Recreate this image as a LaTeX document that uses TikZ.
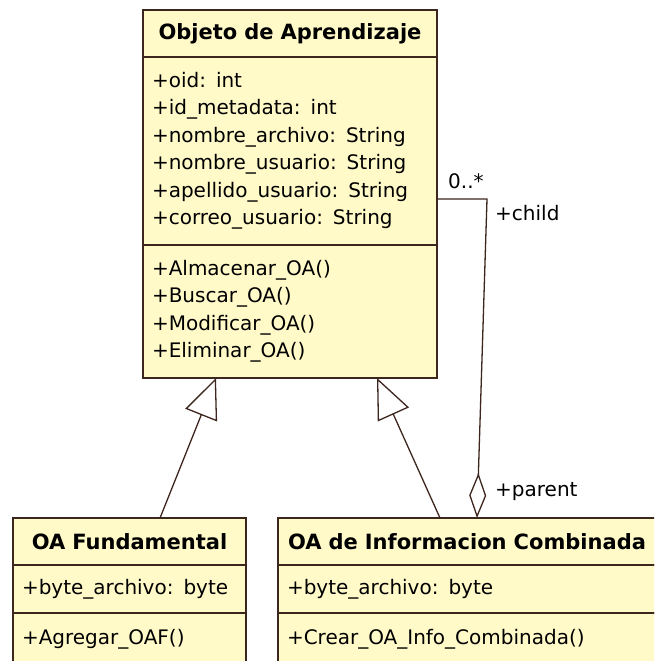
\documentclass[tikz,border=0pt]{standalone}
\usepackage{fontspec}
\setmainfont{DejaVu Sans}
\usetikzlibrary{arrows.meta,calc}

\definecolor{umlfill}{RGB}{255,250,200}
\definecolor{umlline}{RGB}{60,38,30}
\newcommand{\umlbodyfont}{\fontsize{20pt}{27.5pt}\selectfont}
\newcommand{\umlheadfont}{\fontsize{21pt}{26pt}\selectfont\bfseries}

\tikzset{
  umlpart/.style={draw=umlline, fill=umlfill, line width=1.7pt, outer sep=0pt,
    inner xsep=9pt, inner ysep=0pt, anchor=north west, text=black},
  umlhead/.style={umlpart, align=center, font=\umlheadfont},
  umlbody/.style={umlpart, align=left, font=\umlbodyfont},
  gen/.style={draw=umlline, line width=1.3pt,
    -{Triangle[open, length=40pt, width=34pt, line width=1.3pt]}},
  agg/.style={draw=umlline, line width=1.3pt,
    {Diamond[open, length=45pt, width=17pt, line width=1.3pt]}-},
  rolelabel/.style={font=\umlbodyfont, inner sep=0pt, text=black}
}

\begin{document}
\begin{tikzpicture}[x=1pt, y=-1pt]
  \useasboundingbox (0,0) rectangle (654,661);
  \fill[white] (0,0) rectangle (654,661);
  \clip (0,0) rectangle (654,661);

  % Base class
  \node[umlhead, text width=276pt, minimum height=47pt] (oaTitle) at (143,10)
    {Objeto de Aprendizaje};
  \node[umlbody, text width=276pt, minimum height=188pt] (oaAttrs) at (oaTitle.south west)
    {+oid: int\\
     +id\_metadata: int\\
     +nombre\_archivo: String\\
     +nombre\_usuario: String\\
     +apellido\_usuario: String\\
     +correo\_usuario: String};
  \node[umlbody, text width=276pt, minimum height=133pt] (oaOps) at (oaAttrs.south west)
    {+Almacenar\_OA()\\
     +Buscar\_OA()\\
     +Modificar\_OA()\\
     +Eliminar\_OA()};

  % Subclass: OA Fundamental
  \node[umlhead, text width=215pt, minimum height=47pt] (fTitle) at (13,518)
    {OA Fundamental};
  \node[umlbody, text width=215pt, minimum height=48pt] (fAttrs) at (fTitle.south west)
    {+byte\_archivo: byte};
  \node[umlbody, text width=215pt, minimum height=52pt] (fOps) at (fAttrs.south west)
    {+Agregar\_OAF()};

  % Subclass: OA de Informacion Combinada
  \node[umlhead, text width=360pt, minimum height=47pt] (cTitle) at (278,518)
    {OA de Informacion Combinada};
  \node[umlbody, text width=360pt, minimum height=48pt] (cAttrs) at (cTitle.south west)
    {+byte\_archivo: byte};
  \node[umlbody, text width=360pt, minimum height=52pt] (cOps) at (cAttrs.south west)
    {+Crear\_OA\_Info\_Combinada()};

  % Generalizations
  \draw[gen] ($(fTitle.north west)+(147,0)$) -- ($(oaOps.south west)+(73,0)$);
  \draw[gen] ($(cTitle.north west)+(162,0)$) -- ($(oaOps.south west)+(234,0)$);

  % Self aggregation (parent -> child)
  \coordinate (aggBend) at ($(oaAttrs.north east)+(50,142)$);
  \draw[agg] ($(cTitle.north west)+(199,0)$) -- (aggBend) -- ($(oaAttrs.north east)+(0,142)$);

  % Association end labels
  \node[rolelabel, anchor=base west] (multChild) at (448,188) {0..*};
  \node[rolelabel, anchor=west] (roleChild) at (495,213) {+child};
  \node[rolelabel, anchor=west] (roleParent) at (495,492) {+parent};
\end{tikzpicture}
\end{document}
